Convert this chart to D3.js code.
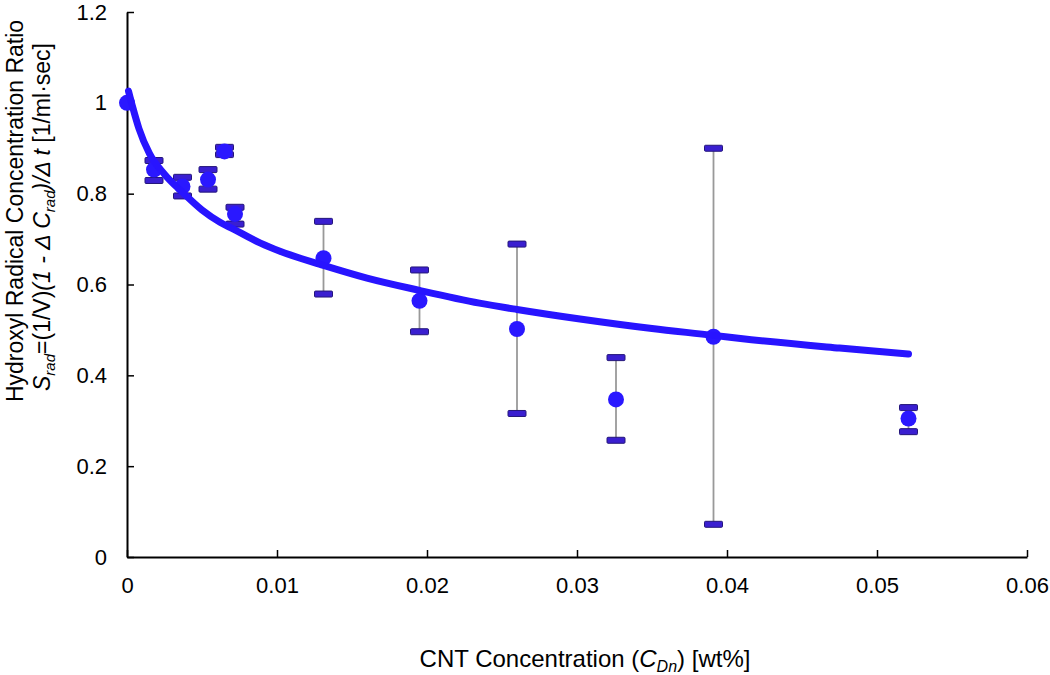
<!DOCTYPE html>
<html>
<head>
<meta charset="utf-8">
<script src="https://cdn.jsdelivr.net/npm/d3@7"></script>
<style>
  body { margin: 0; background: #fff; }
  svg { display: block; font-family: "Liberation Sans", Arial, Helvetica, sans-serif; }
</style>
</head>
<body>
<svg id="chart" width="1050" height="675"></svg>
<script>
// ---- data ----
const concentration = [0, 0.0018, 0.0037, 0.0054, 0.0065, 0.0072, 0.0131, 0.0195, 0.026, 0.0326, 0.0391, 0.0521];
const ratio         = [1.0, 0.853, 0.816, 0.831, 0.893, 0.755, 0.658, 0.564, 0.502, 0.347, 0.485, 0.305];
const errUpper      = [1.0, 0.873, 0.836, 0.853, 0.902, 0.770, 0.739, 0.632, 0.689, 0.439, 0.900, 0.329];
const errLower      = [1.0, 0.829, 0.795, 0.810, 0.886, 0.733, 0.579, 0.496, 0.316, 0.257, 0.072, 0.276];
const hasErr        = [false, true, true, true, true, true, true, true, true, true, true, true];

const fitX = [0.0001, 0.0004, 0.0008, 0.0015, 0.0025, 0.0037, 0.005, 0.0062, 0.0071, 0.0089, 0.0102, 0.0131, 0.0160, 0.0195, 0.0235, 0.026, 0.0302, 0.035, 0.0391, 0.0409, 0.0475, 0.0521];
const fitY = [1.026, 0.988, 0.943, 0.888, 0.843, 0.803, 0.764, 0.737, 0.722, 0.691, 0.673, 0.642, 0.614, 0.587, 0.559, 0.545, 0.524, 0.503, 0.488, 0.481, 0.460, 0.447];

const xTicks = [0, 0.01, 0.02, 0.03, 0.04, 0.05, 0.06];
const yTicks = [0, 0.2, 0.4, 0.6, 0.8, 1, 1.2];

// ---- layout ----
const svg = d3.select("#chart");
const x = d3.scaleLinear().domain([0, 0.06]).range([127, 1027]);
const y = d3.scaleLinear().domain([0, 1.2]).range([557, 12]);

const fmt = d => d === 0 ? "0" : String(+d.toFixed(2));

// axes
const gx = svg.append("g").attr("transform", `translate(0,${y(0)})`)
  .call(d3.axisBottom(x).tickValues(xTicks).tickFormat(fmt).tickSizeInner(-7).tickSizeOuter(0).tickPadding(20));
const gy = svg.append("g").attr("transform", `translate(${x(0)},0)`)
  .call(d3.axisLeft(y).tickValues(yTicks).tickFormat(fmt).tickSizeInner(-7).tickSizeOuter(0).tickPadding(20));
[gx, gy].forEach(g => {
  g.select(".domain").attr("stroke", "#000").attr("stroke-width", 2);
  g.selectAll(".tick line").attr("stroke", "#000").attr("stroke-width", 1.5);
  g.selectAll(".tick text").attr("fill", "#000").style("font-size", "22px")
    .style("font-family", '"Liberation Sans", Arial, sans-serif');
});

// error bars
const data = concentration.map((c, i) => ({ c, v: ratio[i], hi: errUpper[i], lo: errLower[i], e: hasErr[i] }));
const eb = svg.append("g");
data.filter(d => d.e).forEach(d => {
  eb.append("line").attr("x1", x(d.c)).attr("x2", x(d.c)).attr("y1", y(d.hi)).attr("y2", y(d.lo))
    .attr("stroke", "#999").attr("stroke-width", 1.8);
  [d.hi, d.lo].forEach(v => {
    eb.append("rect").attr("x", x(d.c) - 9).attr("y", y(v) - 3).attr("width", 18).attr("height", 6)
      .attr("rx", 1).attr("fill", "#3a1fd0").attr("stroke", "#24167a").attr("stroke-width", 1);
  });
});

// points
svg.append("g").selectAll("circle").data(data).join("circle")
  .attr("cx", d => x(d.c)).attr("cy", d => y(d.v)).attr("r", 8)
  .attr("fill", "#2a18ff");

// fitted curve
const line = d3.line().x((d, i) => x(fitX[i])).y(d => y(d)).curve(d3.curveMonotoneX);
svg.append("path").attr("d", line(fitY)).attr("fill", "none")
  .attr("stroke", "#2814ff").attr("stroke-width", 7).attr("stroke-linecap", "round").attr("stroke-linejoin", "round");

// axis titles
const xt = svg.append("text").attr("x", 585).attr("y", 667).attr("text-anchor", "middle")
  .style("font-size", "24px").attr("fill", "#000");
xt.append("tspan").text("CNT Concentration (");
xt.append("tspan").attr("font-style", "italic").text("C");
xt.append("tspan").attr("font-style", "italic").attr("font-size", "16px").attr("dy", 5).text("Dn");
xt.append("tspan").attr("dy", -5).text(") [wt%]");

svg.append("text").attr("transform", "translate(23,211) rotate(-90)").attr("text-anchor", "middle")
  .style("font-size", "23px").attr("fill", "#000").text("Hydroxyl Radical Concentration Ratio");

const yt2 = svg.append("text").attr("transform", "translate(50,217) rotate(-90)").attr("text-anchor", "middle")
  .style("font-size", "23px").attr("fill", "#000");
yt2.append("tspan").attr("font-style", "italic").text("S");
yt2.append("tspan").attr("font-style", "italic").attr("font-size", "15px").attr("dy", 5).text("rad");
yt2.append("tspan").attr("dy", -5).text("=(1/V)");
yt2.append("tspan").attr("font-style", "italic").text("(1 - \u0394 C");
yt2.append("tspan").attr("font-style", "italic").attr("font-size", "15px").attr("dy", 5).text("rad");
yt2.append("tspan").attr("font-style", "italic").attr("dy", -5).text(")/\u0394 t");
yt2.append("tspan").text(" [1/ml\u00b7sec]");
</script>
</body>
</html>
